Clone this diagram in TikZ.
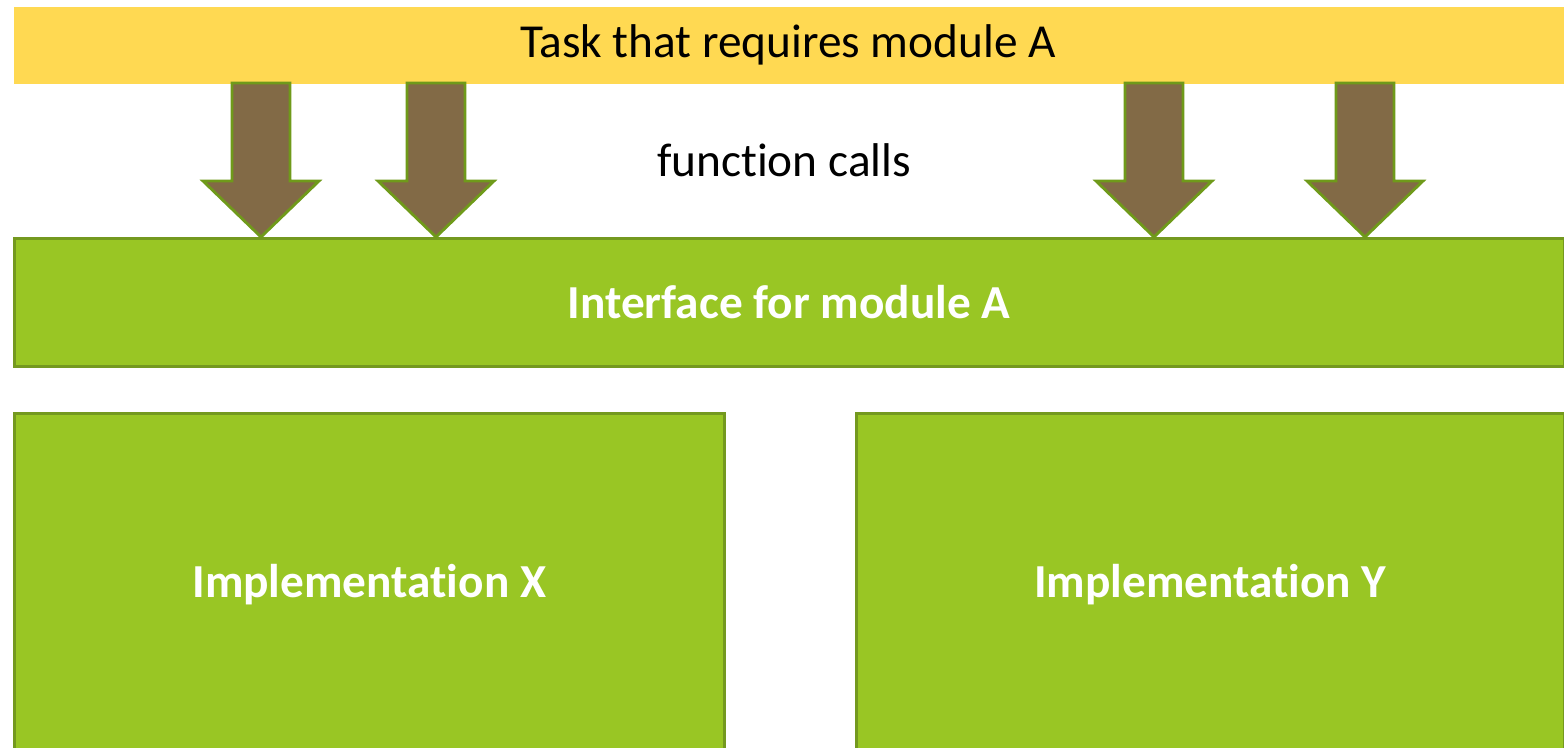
\documentclass[tikz,border=0pt]{standalone}
\usepackage{fontspec}
\setmainfont{Carlito}[Ligatures={NoCommon}]
\usetikzlibrary{calc}

\definecolor{taskyellow}{RGB}{255,217,82}
\definecolor{boxgreen}{RGB}{153,198,36}
\definecolor{boxedge}{RGB}{116,153,31}
\definecolor{callbrown}{RGB}{130,106,70}
\definecolor{calledge}{RGB}{111,154,26}

\tikzset{every picture/.style={line width=0.75pt}}
\tikzset{
  bigfont/.style={font=\fontsize{35.5}{42}\selectfont},
  modbox/.style={draw=boxedge, fill=boxgreen, line width=1.9pt, inner sep=0pt, anchor=north west, text=white, font=\fontsize{35.5}{42}\selectfont\bfseries},
  callarrow/.style={draw=calledge, fill=callbrown, line width=2.1pt, line join=miter}
}

\begin{document}
\begin{tikzpicture}[x=0.75pt,y=0.75pt,yscale=-1,xscale=1]
\useasboundingbox (0,0) rectangle (1564,747);
\clip (0,0) rectangle (1564,747);

%Shape: Rectangle [id:task]
\node [fill=taskyellow, inner sep=0pt, anchor=north west, minimum width=1168pt, minimum height=57.75pt, bigfont] (task) at (13,6) {};
% Text Node
\node [bigfont, inner sep=0.75pt] (tasktext) at (788,45) {Task that requires module A};

%Shape: Rectangle [id:iface]
\node [modbox, minimum width=1162.5pt, minimum height=96pt] (iface) at (13,237) {};
% Text Node
\node [text=white, font=\fontsize{35.5}{42}\selectfont\bfseries, inner sep=0.75pt] (ifacetext) at (789,302) {Interface for module A};

%Shape: Rectangle [id:implx]
\node [modbox, minimum width=532.5pt, minimum height=256.5pt] (implx) at (13,412) {Implementation X};
%Shape: Rectangle [id:imply]
\node [modbox, minimum width=531pt, minimum height=256.5pt] (imply) at (855,412) {Implementation Y};

% Text Node
\node [bigfont, inner sep=0.75pt] (calls) at (784,160) {function calls};

%Shape: Down Arrows
\foreach \x/\n in {261/1,436/2,1154/3,1365/4} {
  \coordinate (top\n) at (\x,83);
  \coordinate (tip\n) at (\x,237);
  \draw[callarrow] ($(top\n)+(-29,0)$) -- ($(top\n)+(29,0)$) -- ($(tip\n)+(29,-56)$) -- ($(tip\n)+(58,-56)$) -- (tip\n) -- ($(tip\n)+(-58,-56)$) -- ($(tip\n)+(-29,-56)$) -- cycle;
}

\end{tikzpicture}
\end{document}
